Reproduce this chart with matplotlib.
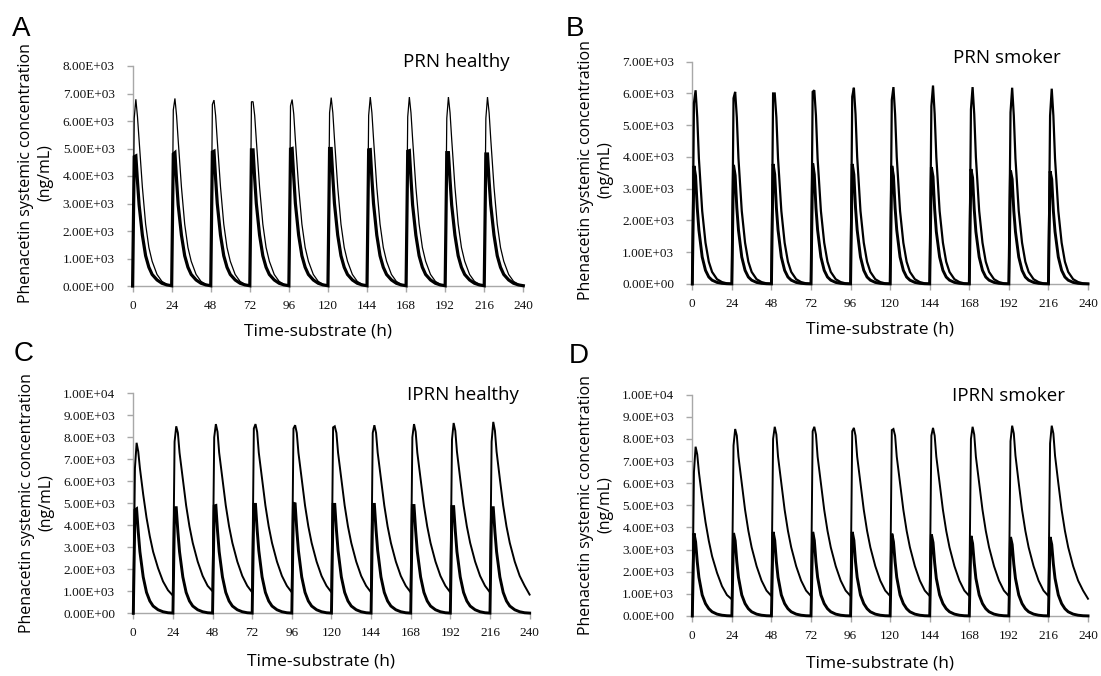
import matplotlib
matplotlib.use("Agg")
import matplotlib.pyplot as plt
from matplotlib.ticker import FuncFormatter, MultipleLocator

# ---------------- data ----------------
dose_times = [0, 24, 48, 72, 96, 120, 144, 168, 192, 216]
cycle_offsets = [0, 1, 2, 3, 4, 6, 8, 10, 12, 15, 18, 21]
end_time = 240

# Panel A: PRN healthy
prn_healthy_thin = [
    [0, 6100, 6790, 6150, 5300, 3600, 2250, 1400, 900, 420, 170, 60],
    [20, 6400, 6820, 6200, 5300, 3600, 2250, 1400, 900, 420, 170, 60],
    [20, 6600, 6760, 6200, 5300, 3600, 2250, 1400, 900, 420, 170, 60],
    [20, 6700, 6700, 6200, 5300, 3600, 2250, 1400, 900, 420, 170, 60],
    [20, 6550, 6780, 6250, 5300, 3600, 2250, 1400, 900, 420, 170, 60],
    [20, 6300, 6850, 6300, 5350, 3600, 2250, 1400, 900, 420, 170, 60],
    [20, 6200, 6870, 6300, 5350, 3600, 2250, 1400, 900, 420, 170, 60],
    [20, 6150, 6870, 6300, 5350, 3600, 2250, 1400, 900, 420, 170, 60],
    [20, 6100, 6870, 6300, 5350, 3600, 2250, 1400, 900, 420, 170, 60],
    [20, 6100, 6870, 6300, 5350, 3600, 2250, 1400, 900, 420, 170, 60],
]
prn_healthy_thin_end = 20
prn_healthy_thick = [
    [0, 4700, 4730, 3800, 2950, 1850, 1100, 680, 420, 220, 100, 40],
    [10, 4800, 4850, 3850, 2950, 1850, 1100, 680, 420, 220, 100, 40],
    [10, 4870, 4900, 3900, 3000, 1850, 1100, 680, 420, 220, 100, 40],
    [10, 4950, 4950, 3900, 3000, 1850, 1100, 680, 420, 220, 100, 40],
    [10, 4980, 5000, 3950, 3000, 1850, 1100, 680, 420, 220, 100, 40],
    [10, 5000, 5000, 3950, 3000, 1850, 1100, 680, 420, 220, 100, 40],
    [10, 4950, 4960, 3900, 3000, 1850, 1100, 680, 420, 220, 100, 40],
    [10, 4900, 4920, 3900, 2950, 1850, 1100, 680, 420, 220, 100, 40],
    [10, 4850, 4850, 3850, 2950, 1850, 1100, 680, 420, 220, 100, 40],
    [10, 4800, 4800, 3800, 2950, 1850, 1100, 680, 420, 220, 100, 40],
]
prn_healthy_thick_end = 10

# Panel B: PRN smoker
prn_smoker_high = [
    [0, 5700, 6100, 5250, 3950, 2300, 1300, 700, 380, 150, 60, 20],
    [8, 5850, 6050, 5250, 3950, 2300, 1300, 700, 380, 150, 60, 20],
    [8, 6000, 6000, 5250, 3950, 2300, 1300, 700, 380, 150, 60, 20],
    [8, 6050, 6100, 5300, 3950, 2300, 1300, 700, 380, 150, 60, 20],
    [8, 5900, 6180, 5350, 4000, 2300, 1300, 700, 380, 150, 60, 20],
    [8, 5800, 6200, 5350, 4000, 2300, 1300, 700, 380, 150, 60, 20],
    [8, 5600, 6250, 5350, 4000, 2300, 1300, 700, 380, 150, 60, 20],
    [8, 5500, 6200, 5350, 4000, 2300, 1300, 700, 380, 150, 60, 20],
    [8, 5400, 6180, 5300, 3950, 2300, 1300, 700, 380, 150, 60, 20],
    [8, 5300, 6150, 5300, 3950, 2300, 1300, 700, 380, 150, 60, 20],
]
prn_smoker_high_end = 8
prn_smoker_low = [
    [0, 3720, 3400, 2400, 1700, 850, 430, 220, 120, 50, 20, 8],
    [3, 3750, 3420, 2400, 1700, 850, 430, 220, 120, 50, 20, 8],
    [3, 3780, 3450, 2400, 1700, 850, 430, 220, 120, 50, 20, 8],
    [3, 3800, 3450, 2400, 1700, 850, 430, 220, 120, 50, 20, 8],
    [3, 3780, 3450, 2400, 1700, 850, 430, 220, 120, 50, 20, 8],
    [3, 3720, 3400, 2400, 1700, 850, 430, 220, 120, 50, 20, 8],
    [3, 3680, 3380, 2350, 1650, 850, 430, 220, 120, 50, 20, 8],
    [3, 3620, 3350, 2350, 1650, 850, 430, 220, 120, 50, 20, 8],
    [3, 3570, 3300, 2300, 1650, 850, 430, 220, 120, 50, 20, 8],
    [3, 3550, 3300, 2300, 1650, 850, 430, 220, 120, 50, 20, 8],
]
prn_smoker_low_end = 3

# Panel C: IPRN healthy
iprn_healthy_high = [
    [0, 6600, 7750, 7350, 6600, 5400, 4350, 3500, 2800, 2050, 1450, 1050],
    [800, 7800, 8500, 8200, 7300, 6100, 4900, 3950, 3200, 2350, 1700, 1250],
    [1000, 8000, 8600, 8250, 7300, 6100, 4900, 3950, 3200, 2350, 1700, 1250],
    [950, 8400, 8600, 8250, 7300, 6100, 4900, 3950, 3200, 2350, 1700, 1250],
    [950, 8400, 8550, 8200, 7300, 6100, 4900, 3950, 3200, 2350, 1700, 1250],
    [950, 8450, 8500, 8200, 7300, 6100, 4900, 3950, 3200, 2350, 1700, 1250],
    [950, 8200, 8550, 8200, 7300, 6100, 4900, 3950, 3200, 2350, 1700, 1250],
    [950, 8000, 8600, 8250, 7300, 6100, 4900, 3950, 3200, 2350, 1700, 1250],
    [950, 7900, 8650, 8300, 7350, 6100, 4900, 3950, 3200, 2350, 1700, 1250],
    [950, 7800, 8700, 8300, 7350, 6100, 4900, 3950, 3200, 2350, 1700, 1250],
]
iprn_healthy_high_end = 850
iprn_healthy_low = [
    [0, 4700, 4750, 3700, 2800, 1650, 950, 560, 330, 160, 70, 25],
    [10, 4800, 4800, 3700, 2800, 1650, 950, 560, 330, 160, 70, 25],
    [10, 4880, 4900, 3750, 2800, 1650, 950, 560, 330, 160, 70, 25],
    [10, 4950, 4950, 3800, 2850, 1650, 950, 560, 330, 160, 70, 25],
    [10, 5000, 4980, 3800, 2850, 1650, 950, 560, 330, 160, 70, 25],
    [10, 4950, 4950, 3800, 2850, 1650, 950, 560, 330, 160, 70, 25],
    [10, 4950, 4950, 3800, 2850, 1650, 950, 560, 330, 160, 70, 25],
    [10, 4900, 4900, 3750, 2800, 1650, 950, 560, 330, 160, 70, 25],
    [10, 4850, 4850, 3750, 2800, 1650, 950, 560, 330, 160, 70, 25],
    [10, 4800, 4800, 3700, 2800, 1650, 950, 560, 330, 160, 70, 25],
]
iprn_healthy_low_end = 10

# Panel D: IPRN smoker
iprn_smoker_high = [
    [0, 6500, 7650, 7300, 6500, 5300, 4250, 3400, 2700, 1950, 1350, 950],
    [750, 7700, 8450, 8150, 7200, 6000, 4800, 3850, 3100, 2250, 1600, 1150],
    [900, 8000, 8550, 8200, 7200, 6000, 4800, 3850, 3100, 2250, 1600, 1150],
    [900, 8350, 8550, 8200, 7200, 6000, 4800, 3850, 3100, 2250, 1600, 1150],
    [900, 8350, 8500, 8150, 7200, 6000, 4800, 3850, 3100, 2250, 1600, 1150],
    [900, 8400, 8450, 8150, 7200, 6000, 4800, 3850, 3100, 2250, 1600, 1150],
    [900, 8150, 8500, 8150, 7200, 6000, 4800, 3850, 3100, 2250, 1600, 1150],
    [900, 8000, 8550, 8200, 7200, 6000, 4800, 3850, 3100, 2250, 1600, 1150],
    [900, 7900, 8600, 8250, 7250, 6000, 4800, 3850, 3100, 2250, 1600, 1150],
    [900, 7800, 8600, 8250, 7250, 6000, 4800, 3850, 3100, 2250, 1600, 1150],
]
iprn_smoker_high_end = 780
iprn_smoker_low = [
    [0, 3740, 3350, 2450, 1750, 950, 560, 330, 190, 85, 35, 12],
    [5, 3750, 3400, 2450, 1750, 950, 560, 330, 190, 85, 35, 12],
    [5, 3800, 3420, 2450, 1750, 950, 560, 330, 190, 85, 35, 12],
    [5, 3800, 3420, 2450, 1750, 950, 560, 330, 190, 85, 35, 12],
    [5, 3800, 3420, 2450, 1750, 950, 560, 330, 190, 85, 35, 12],
    [5, 3720, 3350, 2450, 1750, 950, 560, 330, 190, 85, 35, 12],
    [5, 3680, 3320, 2400, 1700, 950, 560, 330, 190, 85, 35, 12],
    [5, 3620, 3280, 2400, 1700, 950, 560, 330, 190, 85, 35, 12],
    [5, 3570, 3230, 2350, 1700, 950, 560, 330, 190, 85, 35, 12],
    [5, 3570, 3230, 2350, 1700, 950, 560, 330, 190, 85, 35, 12],
]
iprn_smoker_low_end = 5

panel_letters = ["A", "B", "C", "D"]
panel_titles = ["PRN healthy", "PRN smoker", "IPRN healthy", "IPRN smoker"]
y_tops = [8000, 7000, 10000, 10000]
x_ticks = [0, 24, 48, 72, 96, 120, 144, 168, 192, 216, 240]
y_label = "Phenacetin systemic concentration\n(ng/mL)"
x_label = "Time-substrate (h)"

# ---------------- helpers ----------------
time_h = [d + o for d in dose_times for o in cycle_offsets] + [end_time]


def series(rows, end_value):
    vals = []
    for r in rows:
        vals.extend(r)
    vals.append(end_value)
    return vals


panel_series = [
    [(prn_healthy_thin, prn_healthy_thin_end, 0.9), (prn_healthy_thick, prn_healthy_thick_end, 2.3)],
    [(prn_smoker_high, prn_smoker_high_end, 1.6), (prn_smoker_low, prn_smoker_low_end, 2.1)],
    [(iprn_healthy_high, iprn_healthy_high_end, 1.4), (iprn_healthy_low, iprn_healthy_low_end, 2.1)],
    [(iprn_smoker_high, iprn_smoker_high_end, 1.4), (iprn_smoker_low, iprn_smoker_low_end, 2.1)],
]

# ---------------- figure ----------------
W, H = 1101, 676
fig = plt.figure(figsize=(W / 100, H / 100), dpi=100)


def px_axes(x0, x1, ytop, ybot):
    return [x0 / W, 1 - ybot / H, (x1 - x0) / W, (ybot - ytop) / H]


axes_px = [
    (132.6, 523.3, 66, 286),
    (692.3, 1088, 61.7, 284),
    (133.3, 529.6, 393.3, 613.3),
    (692.3, 1088, 394.7, 616),
]
letter_px = [(12, 29), (566, 29), (14, 354), (569, 356)]
title_px = [(510, 62), (1061, 58), (519, 395), (1065, 396)]
ylab_px = [(35.8, 173), (595.5, 170), (36.5, 503), (595.5, 505)]
xlab_px = [(317.5, 331.7), (880, 330), (321, 661.7), (880, 663)]

spine_col = "#a8a8a8"
fmt = FuncFormatter(lambda v, p: f"{v:.2E}")

for i in range(4):
    ax = fig.add_axes(px_axes(*axes_px[i]))
    for vals, end_v, lw in panel_series[i]:
        ax.plot(time_h, series(vals, end_v), color="black", lw=lw,
                solid_joinstyle="miter", clip_on=False, zorder=3)
    ax.set_xlim(0, 240)
    ax.set_ylim(0, y_tops[i])
    ax.set_xticks(x_ticks)
    ax.yaxis.set_major_locator(MultipleLocator(1000))
    ax.yaxis.set_major_formatter(fmt)
    for s in ["top", "right"]:
        ax.spines[s].set_visible(False)
    for s in ["left", "bottom"]:
        ax.spines[s].set_color(spine_col)
        ax.spines[s].set_linewidth(1.0)
    ax.tick_params(axis="both", length=4, width=1.0, color=spine_col,
                   labelcolor="#111111")
    ax.tick_params(axis="y", pad=9)
    ax.tick_params(axis="x", pad=6)
    for lab in ax.get_xticklabels() + ax.get_yticklabels():
        lab.set_fontfamily("Liberation Serif")
        lab.set_fontsize(9.5)

    lx, ly = letter_px[i]
    fig.text(lx / W, 1 - ly / H, panel_letters[i], fontsize=20,
             family="Liberation Sans", ha="left", va="center")
    tx, ty = title_px[i]
    fig.text(tx / W, 1 - ty / H, panel_titles[i], fontsize=13.5,
             family="Open Sans", ha="right", va="center")
    yx, yy = ylab_px[i]
    fig.text(yx / W, 1 - yy / H, y_label, fontsize=11.5, family="Open Sans",
             rotation=90, ha="center", va="center", multialignment="center",
             linespacing=1.3)
    xx, xy = xlab_px[i]
    fig.text(xx / W, 1 - xy / H, x_label, fontsize=12.5, family="Open Sans",
             ha="center", va="center")

fig.savefig("out.png", dpi=100, facecolor="white")
